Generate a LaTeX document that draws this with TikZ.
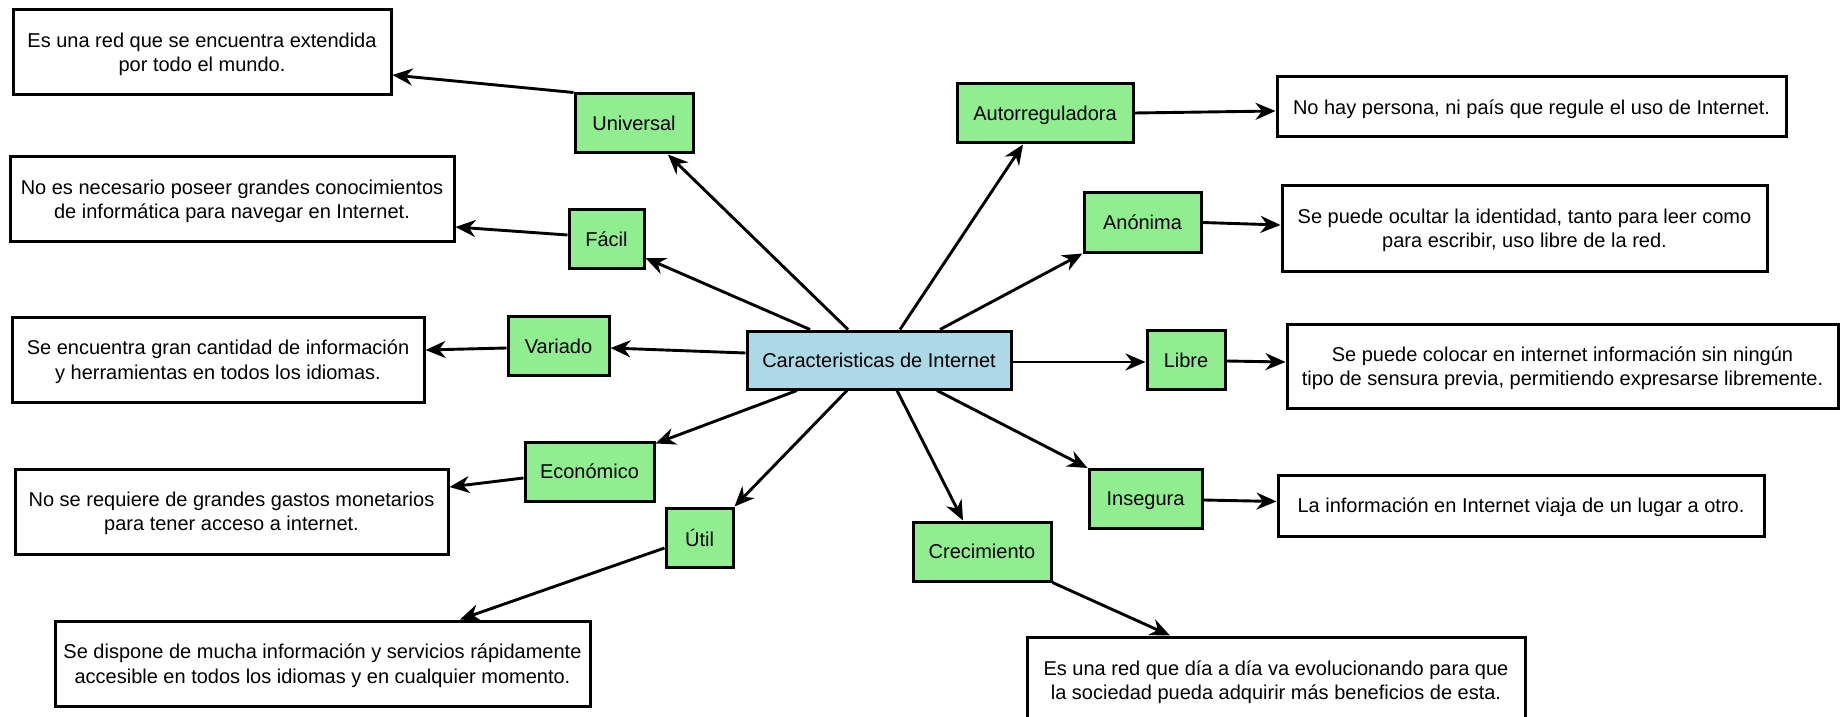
\documentclass[tikz,border=0pt]{standalone}
\usepackage{fontspec}
\setmainfont{Liberation Sans}
\usetikzlibrary{arrows.meta}
\definecolor{verdeclaro}{RGB}{144,238,144}
\definecolor{azulclaro}{RGB}{173,216,230}

\begin{document}
\begin{tikzpicture}[x=.5pt,y=-.5pt,>={Stealth[length=10pt,width=8.5pt]},
    font=\fontsize{10}{12.2}\selectfont,
    rasgo/.style={draw,line width=1.5pt,fill=verdeclaro,inner sep=0pt,text depth=0pt,minimum height=29.5pt},
    nota/.style={draw,line width=1.5pt,fill=white,inner sep=0pt,text depth=0pt,align=center},
    flecha/.style={->,line width=1.45pt}]
  \useasboundingbox (0,0) rectangle (1843,717);
  % centro
  \node[draw,line width=1.5pt,fill=azulclaro,inner sep=0pt,minimum width=132pt,minimum height=29pt] (hub) at (879,360) {Caracteristicas de Internet};
  % rasgos
  \node[rasgo,minimum width=59pt] (univ) at (634,123.5) {Universal};
  \node[rasgo,minimum width=37.5pt] (facil) at (606.5,239) {Fácil};
  \node[rasgo,minimum width=50.5pt] (var) at (558.5,346) {Variado};
  \node[rasgo,minimum width=64.5pt] (econ) at (589.5,471.5) {Económico};
  \node[rasgo,minimum width=33.5pt] (util) at (699.5,537.5) {Útil};
  \node[rasgo,minimum width=69pt] (crec) at (982,551.5) {Crecimiento};
  \node[rasgo,minimum width=88pt] (auto) at (1045,113.5) {Autorreguladora};
  \node[rasgo,minimum width=58.5pt] (anon) at (1142.5,222.5) {Anónima};
  \node[rasgo,minimum width=39pt] (libre) at (1186,360) {Libre};
  \node[rasgo,minimum width=56.5pt] (inseg) at (1145.5,499) {Insegura};
  % notas
  \node[nota,minimum width=189pt,minimum height=42.5pt] (t1) at (202,52.5) {Es una red que se encuentra extendida\\por todo el mundo.};
  \node[nota,minimum width=222pt,minimum height=42pt] (t2) at (232,199) {No es necesario poseer grandes conocimientos\\de informática para navegar en Internet.};
  \node[nota,minimum width=206pt,minimum height=42.5pt] (t3) at (218,359.5) {Se encuentra gran cantidad de información\\y herramientas en todos los idiomas.};
  \node[nota,minimum width=216.5pt,minimum height=42.5pt] (t4) at (231.5,511.5) {No se requiere de grandes gastos monetarios\\para tener acceso a internet.};
  \node[nota,minimum width=267.5pt,minimum height=42.5pt] (t5) at (322.5,663.5) {Se dispone de mucha información y servicios rápidamente\\accesible en todos los idiomas y en cualquier momento.};
  \node[nota,minimum width=249pt,minimum height=43pt] (t6) at (1276,680) {Es una red que día a día va evolucionando para que\\la sociedad pueda adquirir más beneficios de esta.};
  \node[nota,minimum width=254.5pt,minimum height=30pt] (t7) at (1531.5,107) {No hay persona, ni país que regule el uso de Internet.};
  \node[nota,minimum width=242.5pt,minimum height=42.5pt] (t8) at (1524.5,228.5) {Se puede ocultar la identidad, tanto para leer como\\para escribir, uso libre de la red.};
  \node[nota,minimum width=275.5pt,minimum height=42pt] (t9) at (1562.5,366) {Se puede colocar en internet información sin ningún\\tipo de sensura previa, permitiendo expresarse libremente.};
  \node[nota,minimum width=243pt,minimum height=30.5pt] (t10) at (1521,505.5) {La información en Internet viaja de un lugar a otro.};
  % del centro a los rasgos
  \draw[flecha] ([xshift=-15.5pt]hub.north) -- ([xshift=17pt]univ.south);
  \draw[flecha] ([xshift=-34.5pt]hub.north) -- ([yshift=-9.5pt]facil.east);
  \draw[flecha] ([xshift=10.5pt]hub.north) -- ([xshift=-11pt]auto.south);
  \draw[flecha] ([xshift=30.5pt]hub.north) -- (anon.south west);
  \draw[flecha] ([yshift=3.5pt]hub.west) -- ([yshift=-1pt]var.east);
  \draw[flecha] ([xshift=-41pt]hub.south) -- ([yshift=-1.5pt]econ.north east);
  \draw[flecha] ([xshift=-16pt]hub.south) -- (util.north east);
  \draw[flecha] ([xshift=9pt]hub.south) -- ([xshift=-9.5pt]crec.north);
  \draw[flecha] ([xshift=29pt]hub.south) -- (inseg.north west);
  \draw[flecha] ([yshift=-1pt]hub.east) -- ([yshift=-1pt]libre.west);
  % de los rasgos a las notas
  \draw[flecha] (univ.north west) -- ([yshift=-11.25pt]t1.east);
  \draw[flecha] ([yshift=2pt]facil.west) -- ([yshift=-14pt]t2.east);
  \draw[flecha] ([yshift=-1pt]var.west) -- ([yshift=4.75pt]t3.east);
  \draw[flecha] ([yshift=-3.25pt]econ.west) -- ([yshift=12.25pt]t4.east);
  \draw[flecha] ([yshift=-5.25pt]util.west) -- ([xshift=68.75pt]t5.north);
  \draw[flecha] (crec.south east) -- ([xshift=-53pt]t6.north);
  \draw[flecha] ([yshift=.25pt]auto.east) -- ([yshift=-2pt]t7.west);
  \draw[flecha] (anon.east) -- ([yshift=1.75pt]t8.west);
  \draw[flecha] ([yshift=-.5pt]libre.east) -- ([yshift=2pt]t9.west);
  \draw[flecha] ([yshift=-.5pt]inseg.east) -- ([yshift=2pt]t10.west);
\end{tikzpicture}
\end{document}
